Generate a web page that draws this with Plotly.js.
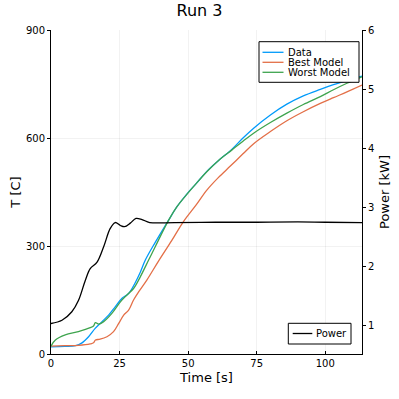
<!DOCTYPE html>
<html>
<head>
<meta charset="utf-8">
<script src="https://cdn.plot.ly/plotly-3.0.1.min.js"></script>
<style>body{margin:0;background:#fff}#plot{width:399px;height:399px}</style>
</head>
<body>
<div id="plot"></div>
<script>
var tData = [0, 5, 9, 11.3, 13.7, 16.1, 18.6, 21, 23.4, 25.9, 28.3, 30.7, 32.6, 34.4, 38, 42.9, 46, 49.6, 53, 56.9, 61, 66, 70, 74, 80, 86, 92, 98.2, 103, 108, 113.4];
var yData = [20, 21, 23, 31, 48, 71, 90, 108, 131, 155, 168, 198, 228, 261, 310, 372, 410, 445, 474, 508, 537, 569, 600, 628, 664, 694, 717, 735, 748, 760, 772];

var tBest = [0, 5, 10, 14.3, 15.5, 16.2, 17.9, 20.4, 22.8, 24.7, 26.5, 28.3, 30.1, 32, 35, 39.2, 44, 48.3, 53, 56.9, 61, 65.4, 70, 74, 80, 86, 92, 98.2, 103, 107.9, 113.4];
var yBest = [22, 23, 24, 28, 31, 39, 41, 48, 62, 85, 108, 122, 150, 173, 206, 258, 315, 368, 415, 456, 490, 522, 556, 585, 618, 648, 673, 696, 712, 728, 747];

var tWorst = [0, 1.6, 5.2, 10, 14.3, 15.5, 16.2, 17.4, 19.2, 22.2, 25.3, 27.7, 30.1, 32.6, 35.6, 38, 42.9, 46, 49.6, 53, 56.9, 61, 66, 70, 74, 80, 86, 92, 98.2, 103, 107.9, 113.4];
var yWorst = [22, 39, 53, 62, 73, 78, 87, 83, 90, 113, 145, 164, 182, 215, 261, 298, 372, 410, 444, 474, 507, 537, 567, 591, 614, 643, 669, 693, 715, 734, 752, 770];

var tPower = [0, 4, 7.6, 10, 12.5, 14.3, 16.8, 19.2, 21.6, 23.4, 25.3, 26.8, 28.9, 31, 33.2, 36, 45, 60, 75, 90, 100, 113.4];
var pPower = [1.03, 1.085, 1.23, 1.42, 1.76, 1.96, 2.07, 2.33, 2.64, 2.74, 2.69, 2.67, 2.73, 2.81, 2.79, 2.74, 2.74, 2.745, 2.745, 2.75, 2.745, 2.74];

var names = ['Data', 'Best Model', 'Worst Model', 'Power'];
var colors = ['rgb(0,154,250)', 'rgb(227,111,71)', 'rgb(62,164,78)', 'rgb(0,0,0)'];

var font = 'DejaVu Sans, sans-serif';

var data = [
  {x: tData, y: yData, name: names[0], type: 'scatter', mode: 'lines',
   line: {color: colors[0], width: 1.3, shape: 'spline'}},
  {x: tBest, y: yBest, name: names[1], type: 'scatter', mode: 'lines',
   line: {color: colors[1], width: 1.3, shape: 'spline'}},
  {x: tWorst, y: yWorst, name: names[2], type: 'scatter', mode: 'lines',
   line: {color: colors[2], width: 1.3, shape: 'spline'}},
  {x: tPower, y: pPower, name: names[3], type: 'scatter', mode: 'lines', yaxis: 'y2',
   line: {color: colors[3], width: 1.3, shape: 'spline'}}
];

// plot area in pixels: l=51, r=37, t=30, b=45 -> 311 x 324
function px(x) { return (x - 51) / 311; }
function py(y) { return (354 - y) / 324; }

// hand-made legends (Plotly's own rows are too tall for this look)
var shapes = [], annotations = [];
function legendBox(x0, y0, x1, y1, entries, lineX0, lineX1, firstY, step) {
  shapes.push({type: 'rect', xref: 'paper', yref: 'paper', x0: px(x0), x1: px(x1), y0: py(y1), y1: py(y0),
    line: {color: '#000', width: 1}, fillcolor: '#fff', layer: 'above'});
  entries.forEach(function (i, k) {
    var yy = firstY + k * step;
    shapes.push({type: 'line', xref: 'paper', yref: 'paper', x0: px(lineX0), x1: px(lineX1), y0: py(yy), y1: py(yy),
      line: {color: colors[i], width: 1.3}, layer: 'above'});
    annotations.push({xref: 'paper', yref: 'paper', x: px(lineX1 + 2), y: py(yy), xanchor: 'left', yanchor: 'middle',
      text: names[i], showarrow: false, font: {size: 10}});
  });
}
legendBox(259, 41.7, 359, 82.3, [0, 1, 2], 262.5, 283.5, 52.3, 10);
legendBox(288.3, 323.3, 351, 344, [3], 292.7, 312.3, 333.5, 0);

var layout = {
  width: 399, height: 399,
  margin: {l: 51, r: 37, t: 30, b: 45},
  paper_bgcolor: '#fff',
  plot_bgcolor: '#fff',
  font: {family: font, color: '#000', size: 10},
  showlegend: false,
  title: {text: 'Run 3', x: 0.5, xanchor: 'center', y: 0.975, yanchor: 'middle', font: {size: 16}},
  xaxis: {
    title: {text: 'Time [s]', font: {size: 13}, standoff: 4},
    range: [0, 113.4], tickvals: [0, 25, 50, 75, 100],
    showline: true, linecolor: '#000', linewidth: 1, mirror: false,
    showgrid: true, gridcolor: 'rgba(0,0,0,0.1)', gridwidth: 0.5,
    ticks: 'inside', ticklen: 3, tickcolor: '#000', zeroline: false
  },
  yaxis: {
    title: {text: 'T [C]', font: {size: 13}, standoff: 2},
    range: [0, 900], tickvals: [0, 300, 600, 900],
    showline: true, linecolor: '#000', linewidth: 1,
    showgrid: true, gridcolor: 'rgba(0,0,0,0.1)', gridwidth: 0.5,
    ticks: 'outside', ticklen: 3, tickcolor: '#000', zeroline: false
  },
  yaxis2: {
    title: {text: 'Power [kW]', font: {size: 13}, standoff: 6},
    overlaying: 'y', side: 'right',
    range: [0.514, 6], tickvals: [1, 2, 3, 4, 5, 6],
    showline: true, linecolor: '#000', linewidth: 1,
    showgrid: false, ticks: 'outside', ticklen: 3, tickcolor: '#000', zeroline: false
  },
  shapes: shapes,
  annotations: annotations
};

Plotly.newPlot('plot', data, layout, {displayModeBar: false, staticPlot: true});
</script>
</body>
</html>
